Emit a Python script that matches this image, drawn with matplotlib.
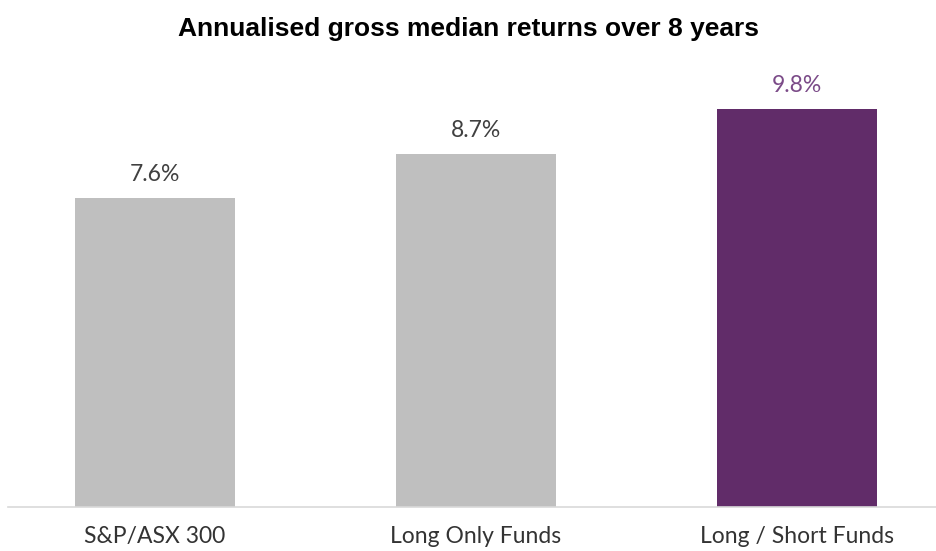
import matplotlib
matplotlib.use("Agg")
import matplotlib.pyplot as plt

# data
categories = ["S&P/ASX 300", "Long Only Funds", "Long / Short Funds"]
returns = [7.6, 8.7, 9.8]
bar_colors = ["#BFBFBF", "#BFBFBF", "#612C69"]
label_colors = ["#404040", "#404040", "#7B4B88"]
title = "Annualised gross median returns over 8 years"

fig = plt.figure(figsize=(9.36, 5.51), dpi=100)
fig.patch.set_facecolor("white")

# axes placed in pixels: left edge at 8, baseline at y=507, top at y=60
ax = fig.add_axes([8 / 936, (551 - 507) / 551, 1 - 8 / 936, 447 / 551])

x = list(range(len(categories)))
ax.bar(x, returns, width=0.5, color=bar_colors)

ax.set_xlim((8 - 155) / 321, (936 - 155) / 321)
ax.set_ylim(0, 447 / 40.6)

for xi, v, c in zip(x, returns, label_colors):
    ax.annotate(f"{v:.1f}%", (xi, v), xytext=(0, 17), textcoords="offset points",
                ha="center", va="center", fontsize=16.5, family="Lato", color=c)

for s in ["top", "right", "left"]:
    ax.spines[s].set_visible(False)
ax.spines["bottom"].set_color("#D9D9D9")
ax.spines["bottom"].set_linewidth(1.2)
ax.set_yticks([])
ax.set_xticks(x)
ax.set_xticklabels(categories, fontsize=16.5, family="Lato", color="#333333")
ax.tick_params(axis="x", length=0, pad=14)

fig.text(0.5, 1 - 29 / 551, title, ha="center", va="center",
         fontsize=19, fontweight="bold", family="Liberation Sans")

plt.savefig("out.png", dpi=100)
